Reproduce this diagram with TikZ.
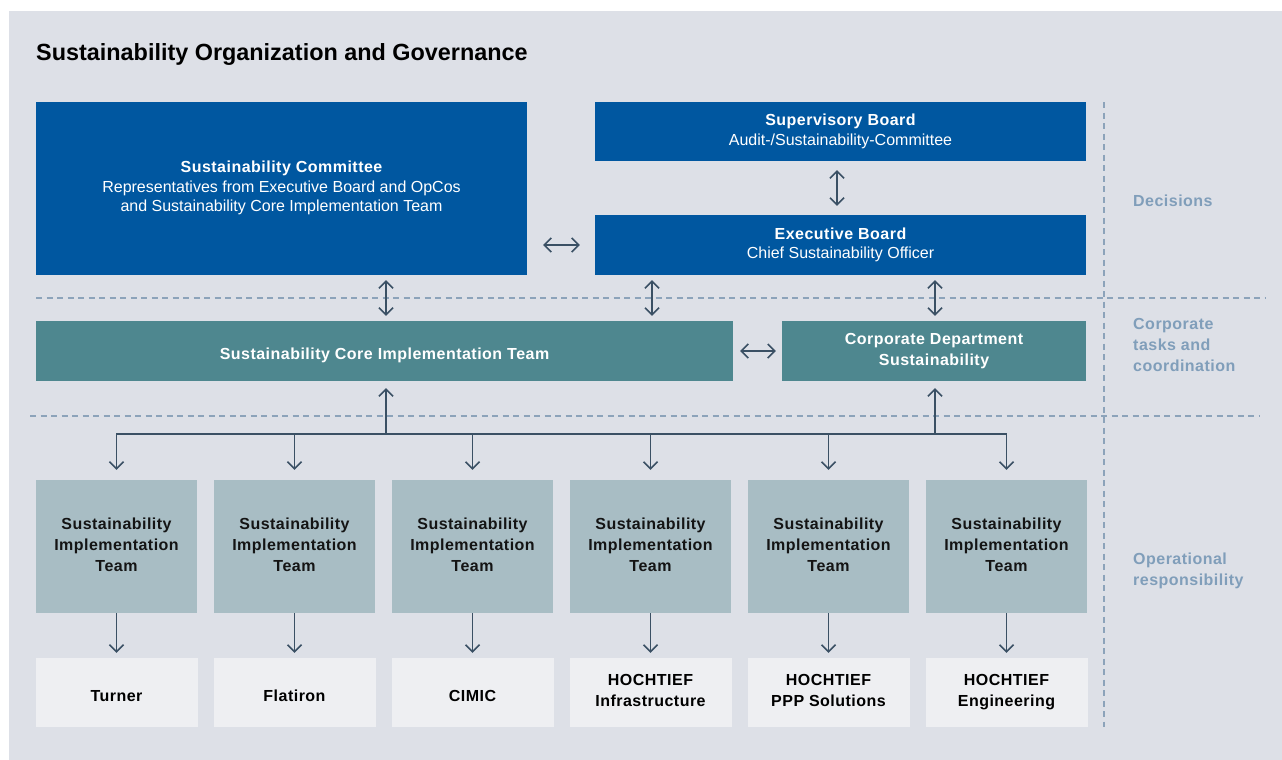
\documentclass[tikz,border=0pt]{standalone}
\usepackage{fontspec}
\setmainfont{Liberation Sans}
\usetikzlibrary{arrows.meta,calc}
\definecolor{panel}{RGB}{221,224,231}
\definecolor{blueb}{RGB}{0,87,160}
\definecolor{tealb}{RGB}{78,135,143}
\definecolor{teamb}{RGB}{168,189,196}
\definecolor{compb}{RGB}{238,239,242}
\definecolor{arrc}{RGB}{58,80,100}
\definecolor{dashc}{RGB}{140,163,186}
\definecolor{labc}{RGB}{128,158,186}
\definecolor{txtc}{RGB}{20,20,20}
\newcommand{\bft}{\bfseries\addfontfeature{LetterSpace=3}}
\newcommand{\bstrut}{\rule{0pt}{21.5pt}}
\newcommand{\estrut}{\rule[-4pt]{0pt}{4pt}}
\tikzset{
  chev/.tip={Straight Barb[length=7pt,width=14pt]},
  boxbase/.style={rectangle, inner sep=0pt, align=center,
    execute at begin node=\bstrut, execute at end node=\estrut},
  bluebox/.style={boxbase, fill=blueb, text=white, minimum width=491pt, font=\fontsize{16}{19.5}\selectfont},
  tealbox/.style={boxbase, fill=tealb, text=white, minimum height=60pt, font=\fontsize{16}{21}\selectfont\bft},
  teambox/.style={boxbase, fill=teamb, text=txtc, minimum width=161pt, minimum height=133pt, font=\fontsize{16}{21}\selectfont\bft},
  compbox/.style={boxbase, fill=compb, text=black, minimum width=162pt, minimum height=69pt, font=\fontsize{16}{21}\selectfont\bft},
  sidelab/.style={anchor=west, inner sep=0pt, align=left, text=labc, font=\fontsize{16}{21}\selectfont\bft,
    execute at begin node=\bstrut, execute at end node=\estrut},
  conn/.style={draw=arrc, line width=1.5pt},
  arr/.style={conn, -chev},
  darr/.style={conn, chev-chev},
  sep/.style={draw=dashc, line width=1.8pt, dash pattern=on 6pt off 4.5pt},
}
\begin{document}
\begin{tikzpicture}[x=1pt,y=-1pt]
\useasboundingbox (0,0) rectangle (1282,760);
\fill[panel] (9,11) rectangle (1282,760);

\node[anchor=base west, inner sep=0pt, font=\fontsize{23.4}{28}\selectfont\bfseries, text=black] (title) at (36,60) {Sustainability Organization and Governance};

% separators
\draw[sep] (36,298) -- (1266,298);
\draw[sep] (30,416) -- (1260,416);
\draw[sep] (1104,102) -- (1104,727);

% side labels
\node[sidelab] (ldec) at (1133,198) {Decisions};
\node[sidelab] (lcorp) at (1133,347) {Corporate\\tasks and\\coordination};
\node[sidelab] (lop) at (1133,571.5) {Operational\\responsibility};

% decision level
\node[bluebox, minimum height=173pt] (comm) at (281.5,188.5)
  {{\bft Sustainability Committee}\\Representatives from Executive Board and OpCos\\and Sustainability Core Implementation Team};
\node[bluebox, minimum height=59pt] (sup) at (840.5,131.5)
  {{\bft Supervisory Board}\\Audit-/Sustainability-Committee};
\node[bluebox, minimum height=60pt] (exec) at (840.5,245)
  {{\bft Executive Board}\\Chief Sustainability Officer};

% corporate level
\node[tealbox, minimum width=697pt] (core) at (384.5,351) {Sustainability Core Implementation Team};
\node[tealbox, minimum width=304pt] (corp) at (934,351) {Corporate Department\\Sustainability};

% operational level
\foreach \i/\x/\c in {1/116.5/Turner, 2/294.5/Flatiron, 3/472.5/CIMIC,
  4/650.5/{HOCHTIEF\\Infrastructure}, 5/828.5/{HOCHTIEF\\PPP Solutions}, 6/1006.5/{HOCHTIEF\\Engineering}}{
  \node[teambox] (t\i) at (\x,546.5) {Sustainability\\Implementation\\Team};
  \node[compbox] (c\i) at (\x,692.5) {\c};
  \draw[arr] (t\i.south) -- ([yshift=5pt]c\i.north);
}

% helper coordinates
\coordinate (xa) at (386,0);
\coordinate (xb) at (652,0);
\coordinate (xc) at (935,0);
\coordinate (xd) at (837,0);
\coordinate (bus) at (0,434);

% connectors
\draw[darr] ([yshift=-9pt]sup.south -| xd) -- ([yshift=9pt]exec.north -| xd);
\draw[darr] ([xshift=16pt]comm.east |- exec.west) -- ([xshift=-15pt]exec.west);
\draw[darr] ([yshift=-5pt]comm.south -| xa) -- ([yshift=5pt]core.north -| xa);
\draw[darr] ([yshift=-5pt]exec.south -| xb) -- ([yshift=5pt]core.north -| xb);
\draw[darr] ([yshift=-5pt]exec.south -| xc) -- ([yshift=5pt]corp.north -| xc);
\draw[darr] ([xshift=7pt]core.east) -- ([xshift=-6pt]corp.west);

\draw[arr] (xa |- bus) -- ([yshift=-7pt]core.south -| xa);
\draw[arr] (xc |- bus) -- ([yshift=-7pt]corp.south -| xc);
\draw[arr] (xa |- bus) -| ([yshift=10pt]t1.north);
\draw[arr] (xa |- bus) -| ([yshift=10pt]t6.north);
\foreach \i in {2,3,4,5}{
  \draw[arr] (t\i.north |- bus) -- ([yshift=10pt]t\i.north);
}
\end{tikzpicture}
\end{document}
